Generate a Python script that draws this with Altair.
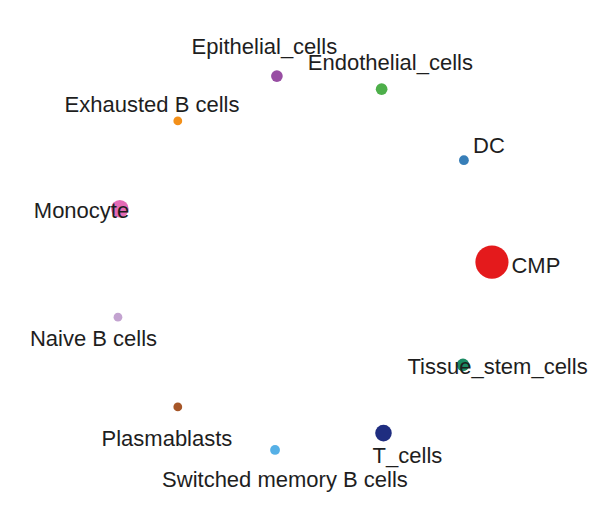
import altair as alt
import pandas as pd

# Node names (circular layout)
names = ["CMP", "DC", "Endothelial_cells", "Epithelial_cells", "Exhausted B cells",
         "Monocyte", "Naive B cells", "Plasmablasts", "Switched memory B cells",
         "T_cells", "Tissue_stem_cells"]
# layout coordinates (unit circle)
node_x = [1.0, 0.85, 0.41, -0.15, -0.68, -0.99, -1.00, -0.68, -0.16, 0.42, 0.845]
node_y = [0.005, 0.55, 0.93, 1.00, 0.76, 0.29, -0.29, -0.77, -1.00, -0.91, -0.545]
# node weight (drives point size)
weight = [100, 8.7, 12.4, 12.4, 7, 28, 7, 7, 8.7, 25, 14.6]
colors = ["#E41A1C", "#377EB8", "#4DAF4A", "#984EA3", "#F39019", "#E36AB5",
          "#C3A3D0", "#A65628", "#56B0E6", "#1F2D80", "#1B8A63"]
# repelled label positions (layout coordinates)
label_x = [1.235, 0.984, 0.457, -0.217, -0.818, -1.195, -1.131, -0.738, -0.107, 0.548, 1.03]
label_y = [-0.003, 0.634, 1.083, 1.168, 0.856, 0.289, -0.398, -0.933, -1.152, -1.021, -0.543]

df = pd.DataFrame({"name": names, "x": node_x, "y": node_y, "w": weight,
                   "lx": label_x, "ly": label_y})

xs = alt.Scale(domain=[-1.588, 1.535], nice=False, zero=False)
ys = alt.Scale(domain=[-1.332, 1.364], nice=False, zero=False)

points = alt.Chart(df).mark_circle(opacity=1).encode(
    x=alt.X("x:Q", scale=xs, axis=None),
    y=alt.Y("y:Q", scale=ys, axis=None),
    size=alt.Size("w:Q", scale=alt.Scale(domain=[0, 100], range=[0, 1100]), legend=None),
    color=alt.Color("name:N", scale=alt.Scale(domain=names, range=colors), legend=None),
)

labels = alt.Chart(df).mark_text(
    font="Liberation Sans", fontSize=22, color="#1e1e1e",
    align="center", baseline="middle", dy=2
).encode(
    x=alt.X("lx:Q", scale=xs, axis=None),
    y=alt.Y("ly:Q", scale=ys, axis=None),
    text="name:N",
)

chart = (points + labels).properties(
    width=584, height=504,
    autosize=alt.AutoSizeParams(type="fit", contains="padding"),
    padding=0,
    background="white",
).configure_view(stroke=None)

chart.save("out.html", embed_options={"renderer": "svg", "actions": False})
